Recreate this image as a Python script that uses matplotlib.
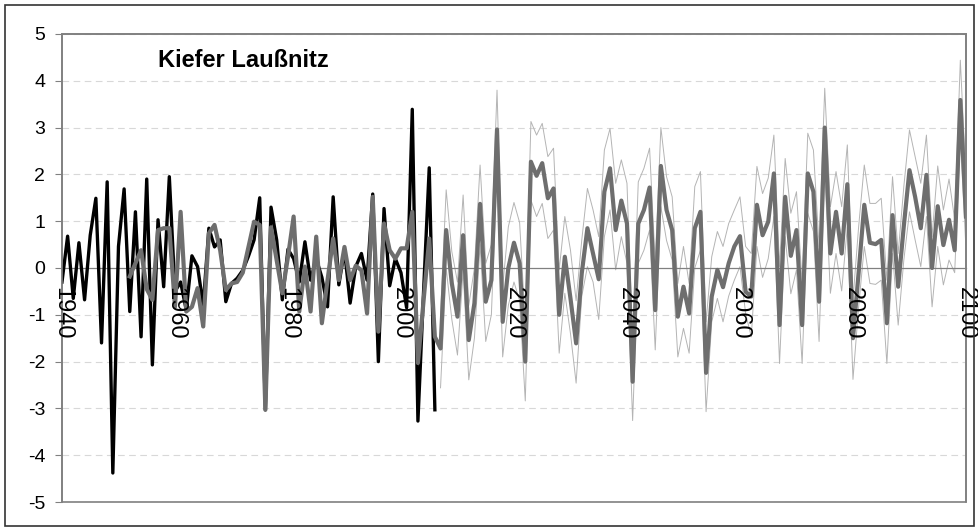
import numpy as np
import matplotlib
matplotlib.use('Agg')
import matplotlib.pyplot as plt
from matplotlib.patches import Rectangle

plt.rcParams['font.family'] = ['Liberation Sans', 'DejaVu Sans']
plt.rcParams['axes.unicode_minus'] = False

title = 'Kiefer Laußnitz'

# observed series 1940-2006
obs_start = 1940
observed = [
    -0.3, 0.68, -0.65, 0.54, -0.68, 0.7, 1.49, -1.6, 1.84, -4.38,
    0.46, 1.69, -0.93, 1.2, -1.47, 1.9, -2.07, 1.03, -0.4, 1.95,
    -0.5, -0.3, -0.9, 0.26, 0.03, -0.8, 0.85, 0.45, 0.6, -0.72,
    -0.33, -0.22, -0.05, 0.25, 0.6, 1.5, -3.03, 1.3, 0.6, -0.68,
    0.4, 0.2, -0.3, 0.56, -0.26, 0.2, -0.2, -0.83, 1.52, -0.36,
    0.38, -0.75, 0.03, 0.31, -0.26, 1.58, -2.0, 1.27, -0.38, 0.2,
    -0.1, -0.85, 3.39, -3.27, -0.5, 2.14, -3.03,
]

# modelled series 1952-2100
mod_start = 1952
modelled = [
    -0.18, 0.1, 0.38, -0.45, -0.68, 0.81, 0.85, 0.85,
    -0.83, 1.2, -0.93, -0.83, -0.43, -1.25, 0.74, 0.92, 0.38, -0.47,
    -0.33, -0.3, -0.1, 0.45, 0.99, 0.92, -3.03, 0.87, 0.17, -0.54,
    0.24, 1.1, -0.93, 0.03, -0.93, 0.67, -1.18, -0.26, 0.63, -0.26,
    0.45, -0.26, 0.05, -0.05, -0.97, 1.52, -1.36, 0.95, 0.38, 0.2,
    0.42, 0.42, 1.2, -2.03, -0.7, 0.63, -1.47, -1.72, 0.81, -0.33,
    -1.04, 0.7, -1.54, -0.75, 1.37, -0.72, -0.26, 2.96, -1.15, 0.0,
    0.54, 0.1, -2.0, 2.27, 1.97, 2.24, 1.49, 1.7, -1.0, 0.24,
    -0.65, -1.61, -0.11, 0.85, 0.31, -0.24, 1.63, 2.13, 0.81, 1.44,
    0.95, -2.43, 0.95, 1.24, 1.72, -0.9, 2.18, 1.24, 0.81, -1.04,
    -0.4, -0.97, 0.85, 1.2, -2.24, -0.61, -0.04, -0.41, 0.1, 0.46,
    0.68, -0.51, -0.61, 1.35, 0.7, 0.99, 2.02, -1.22, 1.52, 0.26,
    0.81, -1.22, 2.02, 1.63, -0.72, 3.0, 0.31, 1.2, 0.31, 1.79,
    -1.5, -0.1, 1.35, 0.54, 0.51, 0.6, -1.18, 1.13, -0.4, 0.9,
    2.09, 1.52, 0.85, 1.99, 0.0, 1.32, 0.49, 1.03, 0.38, 3.59,
    1.1,
]

# scenario band 2007-2100
band_start = 2007
upper = [
    -1.0, 1.67, 0.35,
    -0.3, 1.56, -0.8, 0.0, 2.2, 0.1, 0.5, 3.8, -0.4, 0.88,
    1.4, 0.97, -1.2, 3.13, 2.84, 3.09, 2.38, 2.56, -0.04, 1.1,
    0.38, -0.7, 0.6, 1.7, 1.24, 0.67, 2.52, 2.98, 1.81, 2.31,
    1.81, -1.54, 1.84, 2.13, 2.56, 0.1, 3.0, 1.95, 1.52, -0.33,
    0.46, -0.33, 1.74, 2.06, -1.15, 0.24, 0.78, 0.46, 0.95, 1.24,
    1.52, 0.46, 0.31, 2.17, 1.59, 1.92, 2.84, 0.03, 2.34, 1.17,
    1.63, -0.33, 2.88, 2.52, 0.46, 3.84, 1.31, 2.06, 1.31, 2.63,
    -0.68, 0.88, 2.2, 1.38, 1.38, 1.49, -0.26, 1.95, 0.31, 1.74,
    2.95, 2.38, 1.81, 2.84, 0.67, 2.18, 1.24, 1.9, 1.03, 4.44,
    1.9,
]
lower = [
    -2.56, 0.0, -1.1,
    -1.86, -0.05, -2.39, -1.5, 0.5, -1.57, -1.0, 2.1, -1.9, -0.8,
    -0.3, -0.7, -2.84, 1.45, 1.1, 1.38, 0.63, 0.81, -1.82, -0.54,
    -1.4, -2.46, -0.6, 0.03, -0.3, -1.1, 0.67, 1.24, -0.04, 0.67,
    0.1, -3.26, 0.1, 0.38, 0.81, -1.75, 1.31, 0.59, 0.17, -1.9,
    -1.29, -1.82, 0.0, 0.38, -3.07, -1.15, -0.65, -1.15, -0.6, -0.26,
    0.03, -0.97, -1.47, 0.46, -0.2, 0.2, 1.1, -2.04, 0.67, -0.55,
    -0.04, -2.04, 1.17, 0.78, -1.57, 2.09, -0.54, 0.31, -0.49, 0.88,
    -2.38, -0.83, 0.46, -0.33, -0.35, -0.26, -2.04, 0.31, -1.22, 0.17,
    1.2, 0.6, 0.03, 1.1, -0.83, 0.46, -0.36, 0.17, -0.1, 2.8,
    0.4,
]

x_ticks = [1940, 1960, 1980, 2000, 2020, 2040, 2060, 2080, 2100]
y_ticks = [-5, -4, -3, -2, -1, 0, 1, 2, 3, 4, 5]

obs_years = np.arange(obs_start, obs_start + len(observed))
mod_years = np.arange(mod_start, mod_start + len(modelled))
band_years = np.arange(band_start, band_start + len(upper))

fig = plt.figure(figsize=(9.79, 5.31), dpi=100)
fig.patches.append(Rectangle((0.005, 0.009), 0.99, 0.982, transform=fig.transFigure,
                             fill=False, edgecolor='#333333', lw=1.2))
ax = fig.add_axes([0.0633, 0.0546, 0.9234, 0.8814])

for yv in y_ticks:
    if yv != 0:
        ax.axhline(yv, color='#d8d8d8', lw=0.8, ls=(0, (6, 4)), zorder=0)

ax.plot(band_years, upper, color='#b4b4b4', lw=0.7, zorder=2)
ax.plot(band_years, lower, color='#b4b4b4', lw=0.7, zorder=2)
ax.plot(obs_years, observed, color='black', lw=2.4, zorder=3)
ax.plot(mod_years, modelled, color='#6e6e6e', lw=3.0, zorder=4)

ax.set_xlim(1940, 2100)
ax.set_ylim(-5, 5)
ax.set_yticks(y_ticks)
ax.set_xticks(x_ticks)
ax.tick_params(axis='y', labelsize=14, length=5, color='#808080', pad=7)
ax.tick_params(axis='x', labelsize=17, length=0, pad=14, labelrotation=-90)
for lab in ax.get_xticklabels():
    lab.set_ha('center')
    lab.set_va('top')
ax.xaxis.set_zorder(10)

ax.spines['bottom'].set_position(('data', 0))
ax.spines['bottom'].set_color('#808080')
ax.spines['bottom'].set_linewidth(0.9)
for side in ['left', 'right', 'top']:
    ax.spines[side].set_color('#808080')
    ax.spines[side].set_linewidth(1.2)
ax.add_patch(Rectangle((0, 0), 1, 1, transform=ax.transAxes, fill=False,
                       edgecolor='#808080', lw=1.2, clip_on=False, zorder=5))

ax.text(0.106, 0.944, title, transform=ax.transAxes, fontsize=17,
        fontweight='bold', va='center', ha='left')

fig.savefig('out.png', dpi=100)
